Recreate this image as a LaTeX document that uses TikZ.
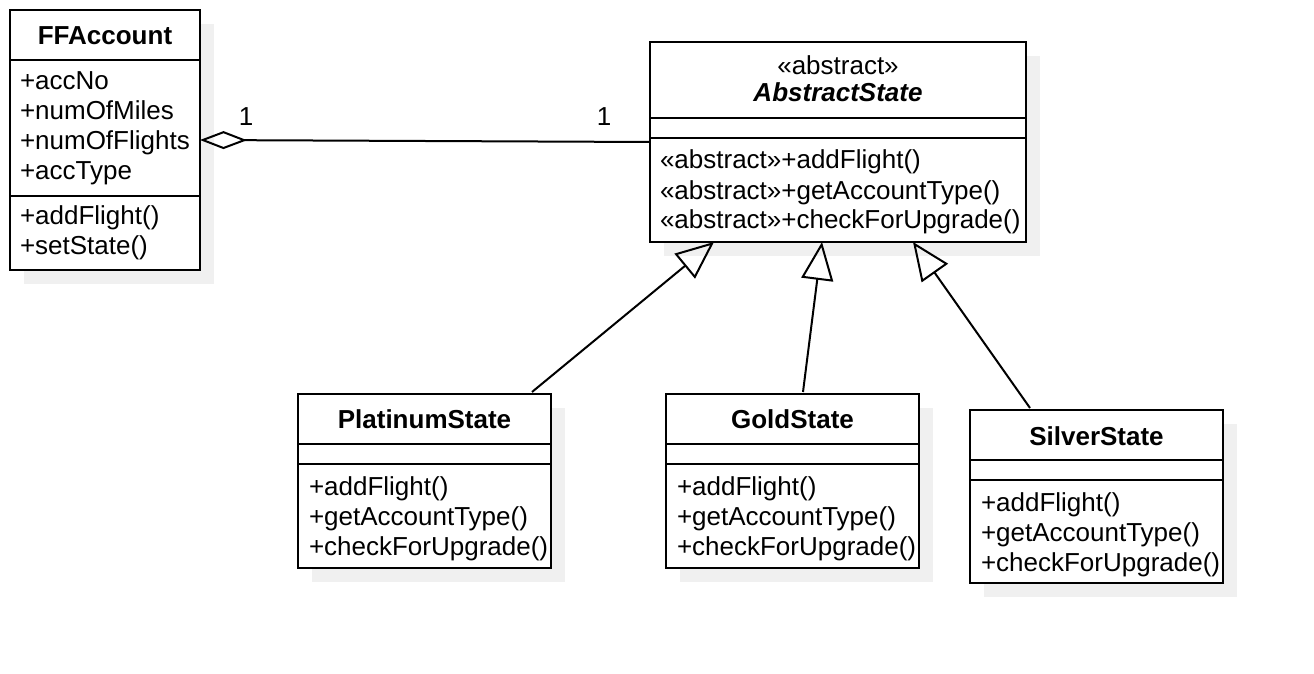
\documentclass[tikz,border=0pt]{standalone}
\usepackage{fontspec}
\setmainfont{Liberation Sans}
\usetikzlibrary{arrows.meta,calc}
\begin{document}
\begin{tikzpicture}[x=0.5pt,y=-0.5pt,
  every node/.style={font=\fontsize{13}{15}\selectfont, inner sep=0pt, outer sep=0pt},
  classbox/.style={draw, line width=1pt, fill=white, anchor=north west, inner sep=0pt, outer sep=0pt},
  shadowbox/.style={fill=black!6, draw=none},
  ttl/.style={font=\fontsize{13}{15}\selectfont\bfseries, anchor=base},
  txt/.style={anchor=base west},
  divider/.style={line width=1pt},
  gen/.style={line width=1pt, -{Triangle[open,length=19pt,width=16pt]}},
  agg/.style={line width=1pt, {Diamond[open,length=23.5pt,width=9pt]}-}]
\useasboundingbox (0,0) rectangle (1314,674);

% shadows
\fill[shadowbox] (24,24) rectangle (214,284);
\fill[shadowbox] (664,56) rectangle (1040,256);
\fill[shadowbox] (312,408) rectangle (565,582);
\fill[shadowbox] (680,408) rectangle (933,582);
\fill[shadowbox] (984,424) rectangle (1237,597);

% FFAccount
\node[classbox, minimum width=95pt, minimum height=130pt] (ff) at (10,10) {};
\draw[divider] ($(ff.north west)+(0,50)$) -- ($(ff.north east)+(0,50)$);
\draw[divider] ($(ff.north west)+(0,186)$) -- ($(ff.north east)+(0,186)$);
\node[ttl] (ffT) at (105,45) {FFAccount};
\node[txt] (ffA1) at (20,90) {+accNo};
\node[txt] (ffA2) at (20,120) {+numOfMiles};
\node[txt] (ffA3) at (20,150) {+numOfFlights};
\node[txt] (ffA4) at (20,180) {+accType};
\node[txt] (ffM1) at (20,225) {+addFlight()};
\node[txt] (ffM2) at (20,255) {+setState()};

% AbstractState
\node[classbox, minimum width=188pt, minimum height=100pt] (abs) at (650,42) {};
\draw[divider] ($(abs.north west)+(0,76)$) -- ($(abs.north east)+(0,76)$);
\draw[divider] ($(abs.north west)+(0,96)$) -- ($(abs.north east)+(0,96)$);
\node[anchor=base] (absS) at (838,75) {«abstract»};
\node[ttl, font=\fontsize{13}{15}\selectfont\bfseries\itshape] (absT) at (838,102) {AbstractState};
\node[txt] (absM1) at (660,169) {«abstract»+addFlight()};
\node[txt] (absM2) at (660,199) {«abstract»+getAccountType()};
\node[txt] (absM3) at (660,229) {«abstract»+checkForUpgrade()};

% PlatinumState
\node[classbox, minimum width=126.5pt, minimum height=87pt] (plat) at (298,394) {};
\draw[divider] ($(plat.north west)+(0,50)$) -- ($(plat.north east)+(0,50)$);
\draw[divider] ($(plat.north west)+(0,70)$) -- ($(plat.north east)+(0,70)$);
\node[ttl] (platT) at (424.5,429) {PlatinumState};
\node[txt] (platM1) at (309,495) {+addFlight()};
\node[txt] (platM2) at (309,525) {+getAccountType()};
\node[txt] (platM3) at (309,555) {+checkForUpgrade()};

% GoldState
\node[classbox, minimum width=126.5pt, minimum height=87pt] (gold) at (666,394) {};
\draw[divider] ($(gold.north west)+(0,50)$) -- ($(gold.north east)+(0,50)$);
\draw[divider] ($(gold.north west)+(0,70)$) -- ($(gold.north east)+(0,70)$);
\node[ttl] (goldT) at (792.5,429) {GoldState};
\node[txt] (goldM1) at (677,495) {+addFlight()};
\node[txt] (goldM2) at (677,525) {+getAccountType()};
\node[txt] (goldM3) at (677,555) {+checkForUpgrade()};

% SilverState
\node[classbox, minimum width=126.5pt, minimum height=86.5pt] (silv) at (970,410) {};
\draw[divider] ($(silv.north west)+(0,50)$) -- ($(silv.north east)+(0,50)$);
\draw[divider] ($(silv.north west)+(0,70)$) -- ($(silv.north east)+(0,70)$);
\node[ttl] (silvT) at (1096.5,445) {SilverState};
\node[txt] (silvM1) at (981,511) {+addFlight()};
\node[txt] (silvM2) at (981,541) {+getAccountType()};
\node[txt] (silvM3) at (981,571) {+checkForUpgrade()};

% connector end points
\coordinate (tipP) at ($(abs.south west)+(64,0)$);
\coordinate (tipG) at ($(abs.south west)+(172,0)$);
\coordinate (tipS) at ($(abs.south west)+(263,0)$);
\coordinate (srcP) at ($(plat.north west)+(234,-2)$);
\coordinate (srcG) at ($(gold.north west)+(137,-2)$);
\coordinate (srcS) at ($(silv.north west)+(60,-2)$);

% generalizations
\draw[gen] (srcP) -- (tipP);
\draw[gen] (srcG) -- (tipG);
\draw[gen] (srcS) -- (tipS);

% aggregation
\draw[agg] (ff.east) -- (abs.west);
\node[anchor=base] (m1) at (246,126) {1};
\node[anchor=base] (m2) at (604,126) {1};
\end{tikzpicture}
\end{document}
